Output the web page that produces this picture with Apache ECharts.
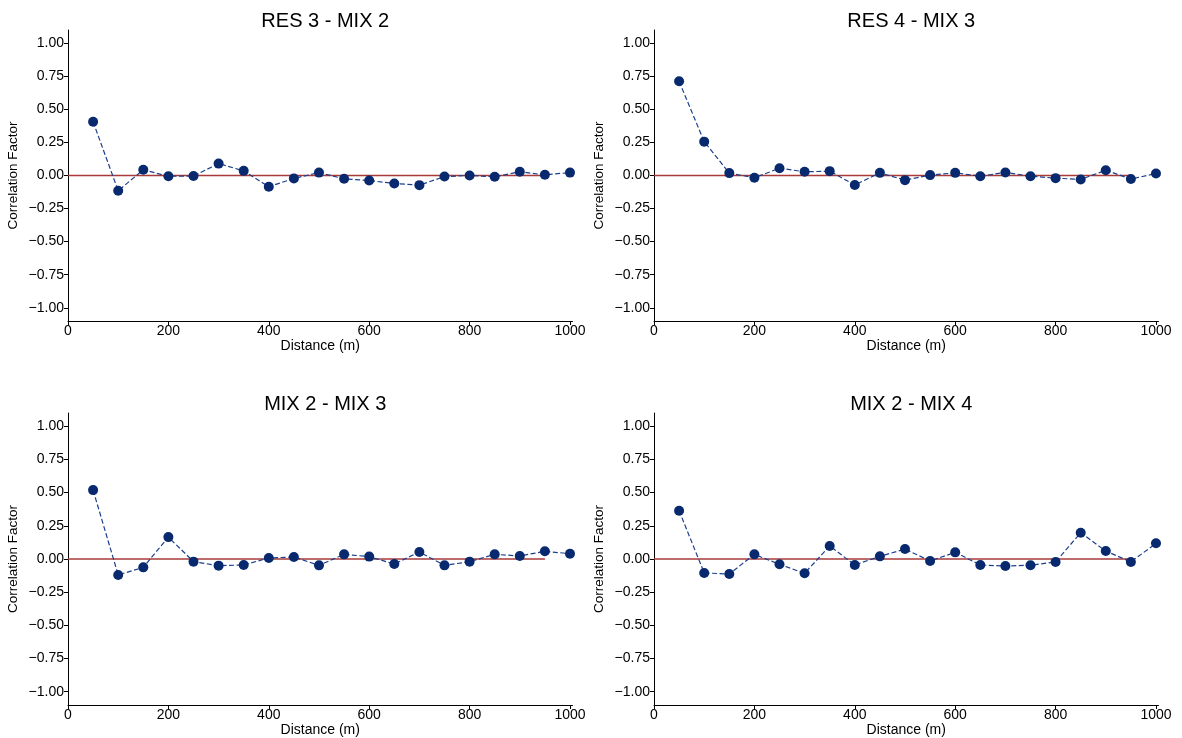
<!DOCTYPE html>
<html>
<head>
<meta charset="utf-8">
<script src="https://cdn.jsdelivr.net/npm/echarts@6/dist/echarts.min.js"></script>
<style>
html,body{margin:0;padding:0;background:#fff;}
#chart{width:1182px;height:738px;}
</style>
</head>
<body>
<div id="chart"></div>
<script>
const distances = [50,100,150,200,250,300,350,400,450,500,550,600,650,700,750,800,850,900,950,1000];
const titles = ["RES 3 - MIX 2", "RES 4 - MIX 3", "MIX 2 - MIX 3", "MIX 2 - MIX 4"];
const res3mix2 = [0.406,-0.115,0.043,-0.006,-0.004,0.09,0.035,-0.085,-0.022,0.022,-0.025,-0.038,-0.06,-0.073,-0.008,0.0,-0.01,0.028,0.005,0.022];
const res4mix3 = [0.712,0.256,0.018,-0.017,0.055,0.028,0.033,-0.072,0.02,-0.035,0.003,0.02,-0.005,0.023,-0.005,-0.02,-0.03,0.04,-0.027,0.015];
const mix2mix3 = [0.519,-0.12,-0.063,0.165,-0.02,-0.05,-0.045,0.008,0.015,-0.048,0.035,0.018,-0.038,0.053,-0.048,-0.02,0.035,0.023,0.058,0.04];
const mix2mix4 = [0.364,-0.105,-0.113,0.035,-0.04,-0.108,0.098,-0.045,0.02,0.075,-0.015,0.05,-0.045,-0.053,-0.047,-0.022,0.198,0.06,-0.022,0.118];
const yTicks = [-1.0,-0.75,-0.5,-0.25,0,0.25,0.5,0.75,1.0];
const xTicks = [0,200,400,600,800,1000];
const refLine = [[0,0],[950,0]];
const xLabel = "Distance (m)";
const yLabel = "Correlation Factor";

const seriesData = [res3mix2, res4mix3, mix2mix3, mix2mix4];
const FONT = "Liberation Sans, Arial, sans-serif";

const grids = [
  {left:68, top:30, width:504.5, height:291},
  {left:654, top:30, width:504.5, height:291},
  {left:68, top:413, width:504.5, height:292},
  {left:654, top:413, width:504.5, height:292}
];

const chart = echarts.init(document.getElementById('chart'));
const option = {
  backgroundColor:'#fff',
  animation:false,
  title: grids.map((g,i)=>({
    text: titles[i],
    left: g.left + g.width/2,
    top: g.top - 24,
    textAlign:'center',
    textStyle:{fontFamily:FONT, fontSize:20, fontWeight:'normal', color:'#000'}
  })),
  grid: grids.map(g=>Object.assign({containLabel:false}, g)),
  xAxis: grids.map((g,i)=>({
    type:'value', gridIndex:i, min:0, max:1005,
    name:xLabel, nameLocation:'middle', nameGap:18,
    nameTextStyle:{fontFamily:FONT, fontSize:14, color:'#000', verticalAlign:'top'},
    axisLine:{show:true, onZero:false, lineStyle:{color:'#000', width:1}},
    axisTick:{show:true, length:4, lineStyle:{color:'#000'}, customValues:xTicks},
    axisLabel:{fontFamily:FONT, fontSize:14, color:'#000', margin:3, customValues:xTicks,
      formatter:v=>String(v)},
    splitLine:{show:false}
  })),
  yAxis: grids.map((g,i)=>({
    type:'value', gridIndex:i, min:-1.1, max:1.1,
    name:yLabel, nameLocation:'middle', nameGap:48,
    nameTextStyle:{fontFamily:FONT, fontSize:13.5, color:'#000'},
    axisLine:{show:true, onZero:false, lineStyle:{color:'#000', width:1}},
    axisTick:{show:true, length:4, lineStyle:{color:'#000'}, customValues:yTicks},
    axisLabel:{fontFamily:FONT, fontSize:14, color:'#000', margin:4, customValues:yTicks,
      formatter:v=>{const s=Math.abs(v).toFixed(2); return v<0?'\u2212'+s:s;}},
    splitLine:{show:false}
  })),
  series: []
};
grids.forEach((g,i)=>{
  option.series.push({
    type:'line', xAxisIndex:i, yAxisIndex:i,
    data: refLine, showSymbol:false, symbol:'none', z:1,
    lineStyle:{color:'#a83a3a', width:1.5}
  });
  option.series.push({
    type:'line', xAxisIndex:i, yAxisIndex:i, z:2,
    data: distances.map((d,k)=>[d, seriesData[i][k]]),
    symbol:'circle', symbolSize:10,
    itemStyle:{color:'#08296e'},
    lineStyle:{color:'#1c3f8c', width:1.2, type:[5,2.5]}
  });
});
chart.setOption(option);
</script>
</body>
</html>
